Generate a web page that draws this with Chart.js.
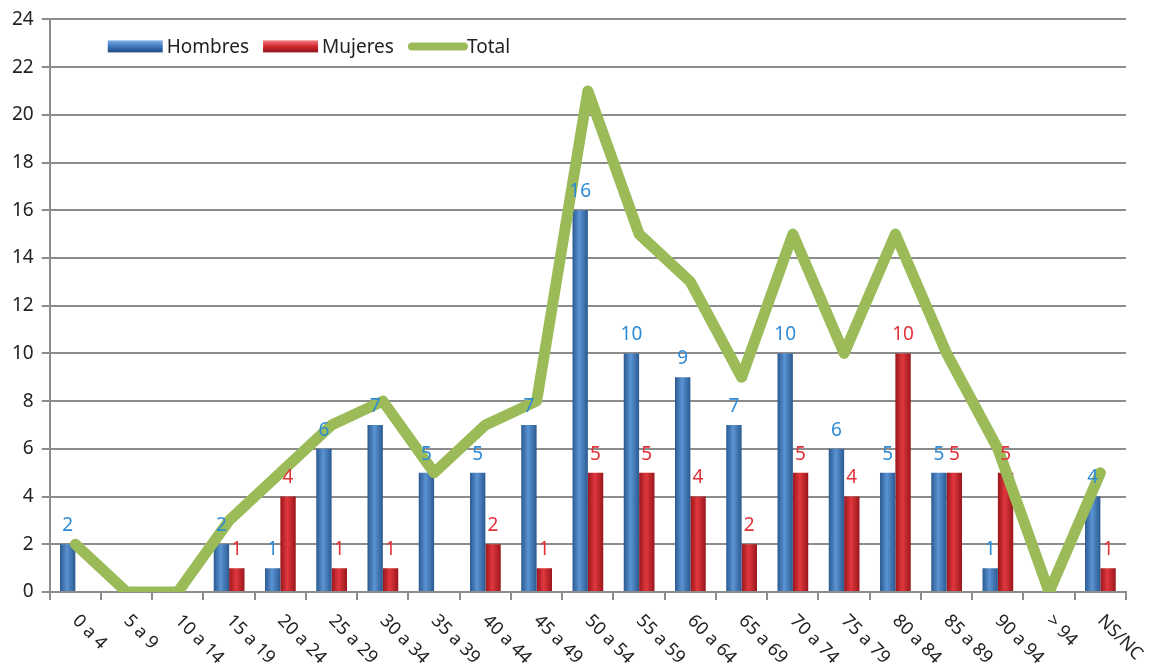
<!DOCTYPE html>
<html>
<head>
<meta charset="utf-8">
<script src="https://cdn.jsdelivr.net/npm/chart.js@4/dist/chart.umd.min.js"></script>
<style>
  html, body { margin: 0; padding: 0; background: #fff; }
  #wrap { width: 1150px; height: 671px; }
</style>
</head>
<body>
<div id="wrap"><canvas id="myChart" width="1150" height="671"></canvas></div>
<script>
const categories = ['0 a 4', '5 a 9', '10 a 14', '15 a 19', '20 a 24', '25 a 29', '30 a 34', '35 a 39',
  '40 a 44', '45 a 49', '50 a 54', '55 a 59', '60 a 64', '65 a 69', '70 a 74', '75 a 79',
  '80 a 84', '85 a 89', '90 a 94', '> 94', 'NS/NC']
const hombres = [2, 0, 0, 2, 1, 6, 7, 5, 5, 7, 16, 10, 9, 7, 10, 6, 5, 5, 1, 0, 4]
const mujeres = [0, 0, 0, 1, 4, 1, 1, 0, 2, 1, 5, 5, 4, 2, 5, 4, 10, 5, 5, 0, 1]
const total = [2, 0, 0, 3, 5, 7, 8, 5, 7, 8, 21, 15, 13, 9, 15, 10, 15, 10, 6, 0, 5]
const yTicks = [0, 2, 4, 6, 8, 10, 12, 14, 16, 18, 20, 22, 24]

const FONT = "'Noto Sans', sans-serif"
const CAT_PCT = 0.6

// bevelled bar fill, one gradient per bar
const barFill = (dark, light) => (c) => {
  const chart = c.chart
  if (c.type !== 'data' || !chart.chartArea) return light
  const xs = chart.scales.x
  const bw = (xs.width / categories.length) * CAT_PCT / 2
  const cx = xs.getPixelForValue(c.dataIndex)
  const left = c.datasetIndex === 0 ? cx - bw : cx
  const g = chart.ctx.createLinearGradient(left, 0, left + bw, 0)
  g.addColorStop(0, dark)
  g.addColorStop(0.45, light)
  g.addColorStop(1, dark)
  return g
}

const valueLabels = {
  id: 'valueLabels',
  afterDatasetsDraw(chart) {
    const ctx = chart.ctx
    const colors = ['#2f8bd6', '#e0323a']
    ctx.save()
    ctx.font = '19px ' + FONT
    ctx.textAlign = 'center'
    ctx.textBaseline = 'bottom'
    ;[0, 1].forEach(di => {
      const meta = chart.getDatasetMeta(di)
      ctx.fillStyle = colors[di]
      meta.data.forEach((bar, i) => {
        const v = chart.data.datasets[di].data[i]
        if (!v) return
        ctx.fillText(String(v), bar.x, bar.y - 9)
      })
    })
    ctx.restore()
  }
}

const slantedTicks = {
  id: 'slantedTicks',
  afterDraw(chart) {
    const ctx = chart.ctx
    const xs = chart.scales.x
    ctx.save()
    ctx.font = '18px ' + FONT
    ctx.fillStyle = '#222'
    ctx.textAlign = 'left'
    ctx.textBaseline = 'middle'
    categories.forEach((lab, i) => {
      const x = xs.getPixelForTick(i)
      ctx.save()
      ctx.translate(x, xs.top + 26)
      ctx.rotate(Math.PI / 4)
      ctx.fillText(lab, 0, 0)
      ctx.restore()
    })
    ctx.restore()
  }
}

const innerLegend = {
  id: 'innerLegend',
  afterDraw(chart) {
    const ctx = chart.ctx
    const a = chart.chartArea
    let x = a.left + 58
    const y = a.top + 27
    ctx.save()
    ctx.font = '19px ' + FONT
    ctx.textBaseline = 'middle'
    ctx.textAlign = 'left'
    chart.data.datasets.forEach(ds => {
      if (ds.type === 'line') {
        ctx.strokeStyle = ds.borderColor
        ctx.lineWidth = 8
        ctx.lineCap = 'round'
        ctx.beginPath()
        ctx.moveTo(x + 4, y)
        ctx.lineTo(x + 56, y)
        ctx.stroke()
      } else {
        const g = ctx.createLinearGradient(0, y - 6, 0, y + 6)
        g.addColorStop(0, ds.legendLight)
        g.addColorStop(0.5, ds.legendMid)
        g.addColorStop(1, ds.legendDark)
        ctx.fillStyle = g
        ctx.fillRect(x, y - 6, 55, 12)
      }
      ctx.fillStyle = '#222'
      ctx.fillText(ds.label, x + 59, y + 1)
      x += 59 + ctx.measureText(ds.label).width + 14
    })
    ctx.restore()
  }
}

new Chart(document.getElementById('myChart').getContext('2d'), {
  data: {
    labels: categories,
    datasets: [
      {
        type: 'bar',
        label: 'Hombres',
        data: hombres,
        backgroundColor: barFill('#2b5a91', '#5b93d3'),
        legendLight: '#7fb0e6', legendMid: '#3f78bd', legendDark: '#1f4a80',
        categoryPercentage: CAT_PCT,
        barPercentage: 1,
        order: 1,
      },
      {
        type: 'bar',
        label: 'Mujeres',
        data: mujeres,
        backgroundColor: barFill('#9a161b', '#e0383e'),
        legendLight: '#f07a7e', legendMid: '#d22830', legendDark: '#8e1418',
        categoryPercentage: CAT_PCT,
        barPercentage: 1,
        order: 1,
      },
      {
        type: 'line',
        label: 'Total',
        data: total,
        borderColor: '#9bbb59',
        borderWidth: 11,
        borderJoinStyle: 'round',
        borderCapStyle: 'round',
        pointRadius: 0,
        tension: 0,
        order: 0,
      },
    ],
  },
  options: {
    responsive: false,
    animation: false,
    layout: { padding: { top: 10, right: 24, bottom: 71, left: 4 } },
    plugins: { legend: { display: false }, tooltip: { enabled: false } },
    scales: {
      x: {
        offset: true,
        grid: { offset: true, drawOnChartArea: false, drawTicks: true, tickLength: 8, color: '#8c8c8c', lineWidth: 2 },
        border: { color: '#8c8c8c', width: 2 },
        ticks: { display: false },
      },
      y: {
        min: 0,
        max: 24,
        afterBuildTicks: (s) => { s.ticks = yTicks.map(v => ({ value: v })) },
        grid: { color: '#8c8c8c', lineWidth: 2, tickLength: 8 },
        border: { color: '#8c8c8c', width: 2 },
        ticks: { color: '#222', font: { size: 19, family: FONT }, padding: 8 },
      },
    },
  },
  plugins: [valueLabels, slantedTicks, innerLegend],
})
</script>
</body>
</html>
